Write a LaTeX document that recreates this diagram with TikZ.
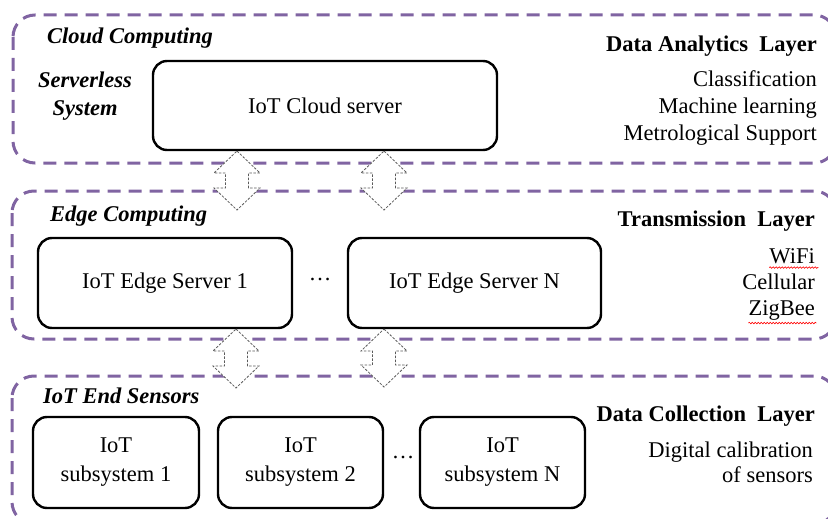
\documentclass[tikz,border=0pt]{standalone}
\usepackage{fontspec}
\setmainfont{Liberation Serif}
\usetikzlibrary{decorations.pathmorphing}
\definecolor{layerpurple}{RGB}{128,100,162}
\definecolor{arrowgray}{RGB}{90,90,90}

\begin{document}
\begin{tikzpicture}[x=1pt, y=-1pt,
    layer/.style={draw=layerpurple, line width=3pt, dash pattern=on 13pt off 8pt, rounded corners=22pt},
    box/.style={draw, line width=2.4pt, rounded corners=14pt, align=center, inner sep=0pt,
        font=\fontsize{22.5}{29}\selectfont},
    txt/.style={inner sep=0pt, font=\fontsize{22.5}{27}\selectfont},
    head/.style={txt, font=\fontsize{22.5}{27}\selectfont\bfseries\itshape},
    layername/.style={txt, anchor=base east, font=\fontsize{22.5}{27}\selectfont\bfseries},
    item/.style={txt, anchor=base east},
    updown/.style={draw=arrowgray, fill=white, line width=0.8pt, dash pattern=on 2.5pt off 1.5pt},
    spell/.style={draw=red, line width=0.6pt, decorate, decoration={snake, amplitude=0.8pt, segment length=3pt}}
]
    \useasboundingbox (0,0) rectangle (828,519);

    % Schichten
    \draw[layer] (13,15) rectangle (836,163);
    \draw[layer] (12,191) rectangle (836,339);
    \draw[layer] (12,376) rectangle (836,524);

    % Cloud Computing
    \node[head, anchor=base west] (cloudhead) at (47,44) {Cloud Computing};
    \node[head, anchor=base] (serverless) at (85,88) {Serverless};
    \node[head, anchor=base] (system) at (85,116) {System};
    \node[box, minimum width=344pt, minimum height=89pt] (cloud) at (325,105.5) {IoT Cloud server};
    \node[layername] (analytics) at (817,52) {Data Analytics~ Layer};
    \node[item] (classif) at (817,87) {Classification};
    \node[item] (ml) at (817,113.5) {Machine learning};
    \node[item] (metro) at (817,140) {Metrological Support};

    % Edge Computing
    \node[head, anchor=base west] (edgehead) at (50,221) {Edge Computing};
    \node[box, minimum width=254pt, minimum height=90pt] (edge1) at (165,283) {IoT Edge Server 1};
    \node[txt, anchor=base] (edgedots) at (320,280) {\dots};
    \node[box, minimum width=253pt, minimum height=90pt] (edgeN) at (474.5,283) {IoT Edge Server N};
    \node[layername] (transmission) at (815,226) {Transmission~ Layer};
    \node[item] (wifi) at (815,263) {WiFi};
    \node[item] (cellular) at (815,289) {Cellular};
    \node[item] (zigbee) at (815,315) {ZigBee};
    \draw[spell] (wifi.south west) ++(0,4) -- ++(49,0);
    \draw[spell] (zigbee.south west) ++(0,3) -- ++(68,0);

    % IoT End Sensors
    \node[head, anchor=base west] (sensorhead) at (43,403) {IoT End Sensors};
    \node[box, minimum width=166pt, minimum height=91pt] (sub1) at (116,462.5) {IoT\\subsystem 1};
    \node[box, minimum width=165pt, minimum height=91pt] (sub2) at (300.5,462.5) {IoT\\subsystem 2};
    \node[txt, anchor=base] (subdots) at (403,458) {\dots};
    \node[box, minimum width=165pt, minimum height=91pt] (subN) at (502.5,462.5) {IoT\\subsystem N};
    \node[layername] (collection) at (815,421) {Data Collection~ Layer};
    \node[item] (digital) at (813,457) {Digital calibration};
    \node[item] (ofsensors) at (813,482) {of sensors};

    % Doppelpfeile
    \foreach \ax/\at/\ab in {237/151/210, 384/151/210, 236/329/388, 384/329/387}
        \draw[updown] (\ax,\at) -- ++(23,22) -- ++(-11.5,0) -- (\ax+11.5,\ab-22) -- ++(11.5,0)
            -- (\ax,\ab) -- ++(-23,-22) -- ++(11.5,0) -- (\ax-11.5,\at+22) -- ++(-11.5,0) -- cycle;
\end{tikzpicture}
\end{document}
